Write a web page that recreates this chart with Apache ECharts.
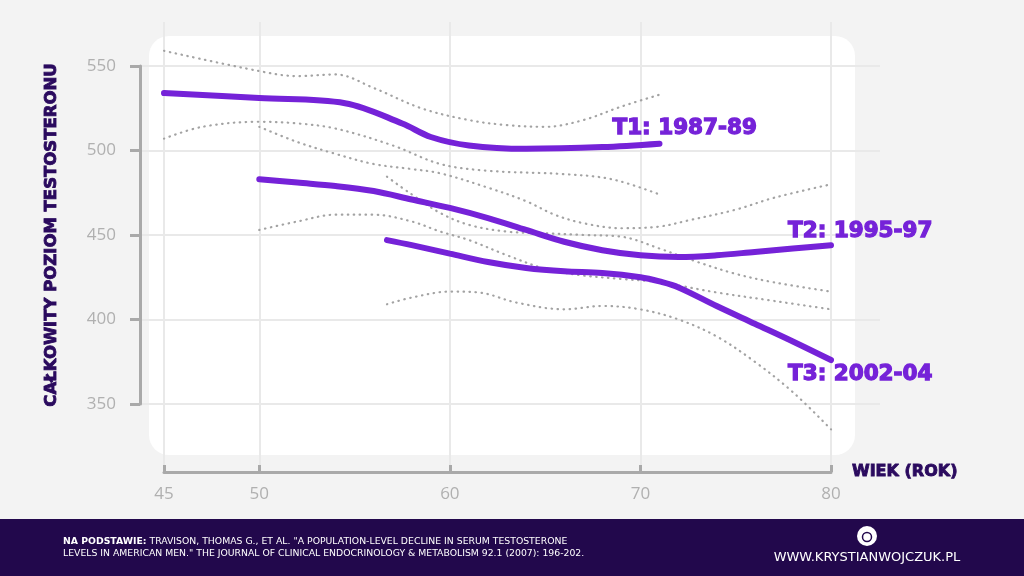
<!DOCTYPE html>
<html>
<head>
<meta charset="utf-8">
<script src="https://cdn.jsdelivr.net/npm/echarts@6/dist/echarts.min.js"></script>
<style>
html,body{margin:0;padding:0;background:#f3f3f3;}
#chart{width:1024px;height:576px;}
</style>
</head>
<body>
<div id="chart"></div>
<script>
// ---- data ----
const xTicks = [45, 50, 60, 70, 80];
const yTicks = [350, 400, 450, 500, 550];
const seriesNames = ['T1: 1987-89', 'T2: 1995-97', 'T3: 2002-04'];

const t1Age = [45, 50, 54.5, 57.5, 59, 61, 64, 68, 71];
const t1Val = [534, 531, 528, 516, 508, 503, 501, 502, 504];
const t1UpAge = [45, 50, 52, 54, 56, 58.5, 61, 63, 65, 67, 69, 71];
const t1Up = [559, 547, 544, 545, 537, 525, 518, 515, 514, 518, 526, 533];
const t1LoAge = [45, 47, 50, 52, 54, 57, 59.5, 62, 66, 68.5, 71];
const t1Lo = [507, 514, 517, 516, 513, 503, 492, 488, 486, 483, 474];

const t2Age = [50, 52, 54, 56, 58, 60, 62, 64, 66, 68, 70, 72, 74, 76, 78, 80];
const t2Val = [483, 481, 479, 476, 471, 466, 460, 453, 446, 441, 438, 437, 438, 440, 442, 444];
const t2UpAge = [50, 52, 54, 56, 58, 59.5, 62, 64, 65.5, 67, 69, 71, 72.5, 75, 77, 80];
const t2Up = [514, 505, 498, 492, 489, 486.5, 478, 470, 462, 457, 454, 455, 458.6, 465, 472, 480];
const t2LoAge = [50, 52, 54, 56, 58, 59.5, 61, 63, 65, 67, 69, 71, 74, 77, 80];
const t2Lo = [453, 458, 462, 462, 458, 452, 447, 438, 430, 426, 424, 422, 416, 411, 406];

const t3Age = [56.7, 58, 60, 62, 64, 66, 68, 70, 71, 72, 74, 76, 78, 80];
const t3Val = [447, 444, 439, 434, 430.5, 428.5, 427.5, 425, 422.5, 419, 408, 397.5, 387, 376];
const t3UpAge = [56.7, 58, 59.5, 61, 63, 65, 67, 69, 71, 73, 75, 77, 80];
const t3Up = [484.5, 474, 463, 456, 452, 451, 450, 449, 442, 434, 427, 422, 416.5];
const t3LoAge = [56.7, 58, 60, 61.5, 63.5, 66, 68, 70, 72, 74, 76, 78, 80];
const t3Lo = [409, 413, 416.5, 416, 410, 406, 408, 406, 400, 390, 375, 357, 335];

// ---- layout ----
const X0 = 164, X1 = 831;           // pixel positions of age 45 and 80
const pxPerYear = (X1 - X0) / 35;
const yGridLeft = 140, yGridRight = 880;
const xMin0 = 45 - (X0 - yGridLeft) / pxPerYear;
const xMax0 = 45 + (yGridRight - X0) / pxPerYear;

const PURPLE = '#7522d8';
const DARK = '#2a0a5e';
const GRAYTXT = '#b0b0b0';
const AXIS = '#a9a9a9';
const FONT = '"Open Sans", Lato, sans-serif';
const WIDE = '"DejaVu Sans", sans-serif';

const pairs = (a, v) => a.map((x, i) => [x, v[i]]);

function dotted(a, v) {
  return {
    type: 'line', xAxisIndex: 0, yAxisIndex: 0, data: pairs(a, v),
    symbol: 'none', smooth: 0.35, clip: false, silent: true, z: 3,
    lineStyle: { color: '#a3a3a3', width: 2.2, type: [0.5, 5.5], cap: 'round' }
  };
}
function solid(name, a, v, off) {
  return {
    name, type: 'line', xAxisIndex: 0, yAxisIndex: 0, data: pairs(a, v),
    symbol: 'none', smooth: 0.35, clip: false, z: 5,
    lineStyle: { color: PURPLE, width: 6, cap: 'round' },
    endLabel: {
      show: true, formatter: name, position: 'right', distance: 0,
      align: 'left', verticalAlign: 'middle', offset: off,
      color: PURPLE, fontFamily: WIDE, fontWeight: 'bold', fontSize: 21.5,
      textBorderColor: PURPLE, textBorderWidth: 1.3
    }
  };
}

const chart = echarts.init(document.getElementById('chart'));
chart.setOption({
  animation: false,
  backgroundColor: '#f3f3f3',
  grid: [
    { left: yGridLeft, right: 1024 - yGridRight, top: 66, bottom: 576 - 404 },
    { left: X0, right: 1024 - X1, top: 22, bottom: 576 - 472 }
  ],
  xAxis: [
    { type: 'value', gridIndex: 0, min: xMin0, max: xMax0, show: false },
    {
      type: 'value', gridIndex: 1, min: 45, max: 80,
      name: 'WIEK (ROK)', nameLocation: 'end', nameGap: 21,
      nameTextStyle: { color: DARK, fontFamily: WIDE, fontWeight: 'bold', fontSize: 16, verticalAlign: 'middle',
        textBorderColor: DARK, textBorderWidth: 0.9 },
      axisLine: { show: true, lineStyle: { color: AXIS, width: 3 } },
      axisTick: { show: true, inside: true, length: 7, lineStyle: { color: AXIS, width: 3 }, customValues: xTicks },
      axisLabel: { color: GRAYTXT, fontFamily: FONT, fontSize: 17, margin: 14, customValues: xTicks },
      splitLine: { show: true, lineStyle: { color: '#e9e9e9', width: 2 } }
    }
  ],
  yAxis: [
    {
      type: 'value', gridIndex: 0, min: yTicks[0], max: yTicks[yTicks.length - 1], interval: 50,
      name: 'CAŁKOWITY POZIOM TESTOSTERONU', nameLocation: 'middle', nameRotate: 90, nameGap: 80,
      nameTextStyle: { color: DARK, fontFamily: WIDE, fontWeight: 'bold', fontSize: 16.5,
        textBorderColor: DARK, textBorderWidth: 0.9 },
      axisLine: { show: true, lineStyle: { color: AXIS, width: 3 } },
      axisTick: { show: true, length: 10, lineStyle: { color: AXIS, width: 3 } },
      axisLabel: { color: GRAYTXT, fontFamily: FONT, fontSize: 17, margin: 24 },
      splitLine: { show: true, lineStyle: { color: '#e9e9e9', width: 2 } }
    },
    { type: 'value', gridIndex: 1, min: 0, max: 1, show: false }
  ],
  graphic: [
    { type: 'rect', z: -10, shape: { x: 149, y: 36, width: 706, height: 419, r: 20 }, style: { fill: '#ffffff' } },
    { type: 'rect', z: 10, shape: { x: 0, y: 519, width: 1024, height: 57 }, style: { fill: '#22084c' } },
    {
      type: 'text', z: 11, x: 63, y: 535,
      style: {
        text: '{b|NA PODSTAWIE:} TRAVISON, THOMAS G., ET AL. "A POPULATION-LEVEL DECLINE IN SERUM TESTOSTERONE\nLEVELS IN AMERICAN MEN." THE JOURNAL OF CLINICAL ENDOCRINOLOGY & METABOLISM 92.1 (2007): 196-202.',
        fill: '#ffffff', font: '9.3px "DejaVu Sans"', lineHeight: 12.5,
        rich: { b: { fill: '#ffffff', fontWeight: 'bold', fontSize: 9.3, fontFamily: 'DejaVu Sans' } }
      }
    },
    { type: 'circle', z: 11, shape: { cx: 867, cy: 536, r: 10 }, style: { fill: '#ffffff' } },
    { type: 'circle', z: 12, shape: { cx: 867, cy: 537, r: 4.5 }, style: { fill: 'none', stroke: '#22084c', lineWidth: 1.5 } },
    {
      type: 'text', z: 11, x: 867, y: 558,
      style: { text: 'WWW.KRYSTIANWOJCZUK.PL', fill: '#ffffff', font: '13px "DejaVu Sans"', align: 'center', verticalAlign: 'middle' }
    }
  ],
  series: [
    dotted(t1UpAge, t1Up), dotted(t1LoAge, t1Lo),
    dotted(t2UpAge, t2Up), dotted(t2LoAge, t2Lo),
    dotted(t3UpAge, t3Up), dotted(t3LoAge, t3Lo),
    solid(seriesNames[0], t1Age, t1Val, [-47, -15]),
    solid(seriesNames[1], t2Age, t2Val, [-43, -14]),
    solid(seriesNames[2], t3Age, t3Val, [-43, 14])
  ]
});
</script>
</body>
</html>
